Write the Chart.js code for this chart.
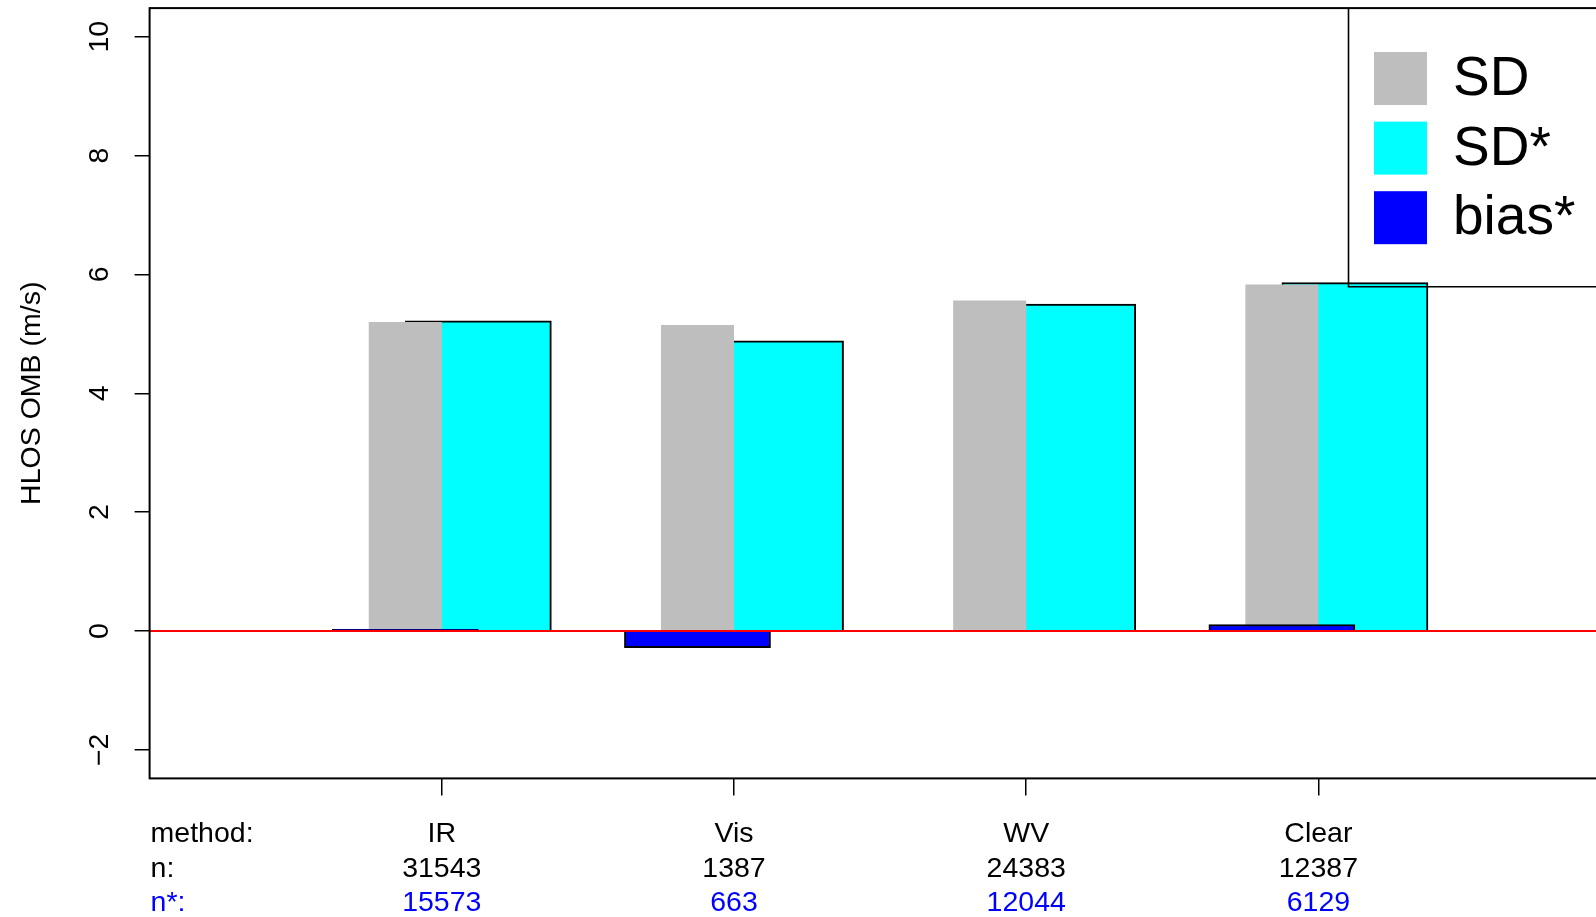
<!DOCTYPE html>
<html><head><meta charset="utf-8">
<script src="https://cdn.jsdelivr.net/npm/chart.js@4/dist/chart.umd.min.js"></script>
<style>
html,body{margin:0;padding:0;overflow:hidden;background:#fff;width:1596px;height:917px}
#wrap{position:absolute;left:0;top:0;width:1640px;height:917px}
canvas{display:block}
</style></head>
<body><div id="wrap"><canvas id="c" width="1640" height="917" style="width:1640px;height:917px"></canvas></div>
<script>
// ---- data ----
const categories = ['IR', 'Vis', 'WV', 'Clear'];
const nAll = ['31543', '1387', '24383', '12387'];
const nStar = ['15573', '663', '12044', '6129'];
const sd = [5.20, 5.15, 5.56, 5.83];
const sdStar = [5.22, 4.88, 5.50, 5.86];
const biasStar = [0.03, -0.28, -0.01, 0.11];
const yTicks = [-2, 0, 2, 4, 6, 8, 10];
const rowHeads = ['method:', 'n:', 'n*:'];
const seriesNames = ['SD', 'SD*', 'bias*'];

// ---- styling ----
const FONT = '"Liberation Sans", Arial, Helvetica, sans-serif';
const GRAY = '#BEBEBE', CYAN = '#00FFFF', BLUE = '#0000FF';
const yLo = yTicks[0], yHi = yTicks[yTicks.length - 1];
const ext = (yHi - yLo) * 0.04;
const labels = [''].concat(categories, ['']);
const pad = arr => [null].concat(arr, [null]);

const decor = {
  id: 'decor',
  afterDatasetsDraw(chart) {
    const ctx = chart.ctx, a = chart.chartArea;
    const y = chart.scales.y;
    ctx.save();
    // zero line
    const y0 = y.getPixelForValue(0);
    ctx.strokeStyle = '#FF0000'; ctx.lineWidth = 2;
    ctx.beginPath(); ctx.moveTo(a.left, y0); ctx.lineTo(a.right, y0); ctx.stroke();
    // box
    ctx.strokeStyle = '#000'; ctx.lineWidth = 2;
    ctx.strokeRect(a.left, a.top, a.right - a.left, a.bottom - a.top);
    // legend
    const lx = 1348.5, ly = a.top, lb = 286.7;
    ctx.lineWidth = 1.6;
    ctx.beginPath();
    ctx.moveTo(chart.width + 5, lb); ctx.lineTo(lx, lb); ctx.lineTo(lx, ly); ctx.stroke();
    const order = [1, 2, 0];
    ctx.font = '55px ' + FONT;
    ctx.textAlign = 'left'; ctx.textBaseline = 'middle';
    order.forEach((di, k) => {
      const ds = chart.data.datasets[di];
      const top = 52 + k * 69.6;
      ctx.fillStyle = ds.backgroundColor;
      ctx.fillRect(1374, top, 53, 53);
      ctx.fillStyle = '#000';
      ctx.fillText(ds.label, 1453, top + 28);
    });
    ctx.restore();
  },
  afterDraw(chart) {
    const ctx = chart.ctx, a = chart.chartArea;
    const y = chart.scales.y, x = chart.scales.x;
    ctx.save();
    ctx.fillStyle = '#000';
    ctx.font = '28.5px ' + FONT;
    // y tick labels (rotated)
    y.ticks.forEach(t => {
      const py = y.getPixelForValue(t.value);
      ctx.save();
      ctx.translate(108, py);
      ctx.rotate(-Math.PI / 2);
      ctx.textAlign = 'center'; ctx.textBaseline = 'alphabetic';
      ctx.fillText(String(t.value).replace('-', '\u2212'), 0, 0);
      ctx.restore();
    });
    // y title
    ctx.save();
    ctx.translate(40, (a.top + a.bottom) / 2);
    ctx.rotate(-Math.PI / 2);
    ctx.textAlign = 'center'; ctx.textBaseline = 'alphabetic';
    ctx.fillText('HLOS OMB (m/s)', 0, 0);
    ctx.restore();
    // bottom table
    const rows = [categories, nAll, nStar];
    const colors = ['#000', '#000', BLUE];
    const base = [841.7, 877.3, 910.7];
    ctx.textBaseline = 'alphabetic';
    rows.forEach((row, r) => {
      ctx.fillStyle = colors[r];
      ctx.textAlign = 'left';
      ctx.fillText(rowHeads[r], a.left + 1, base[r]);
      ctx.textAlign = 'center';
      row.forEach((txt, i) => {
        ctx.fillText(txt, x.getPixelForValue(i + 1), base[r]);
      });
    });
    ctx.restore();
  }
};

const edgeHidden = c => (c.index === 0 || c.index === labels.length - 1) ? 'rgba(0,0,0,0)' : '#000';

new Chart(document.getElementById('c'), {
  type: 'bar',
  data: {
    labels: labels,
    datasets: [
      { label: seriesNames[2], data: pad(biasStar), backgroundColor: BLUE, borderColor: '#000',
        borderWidth: 2, borderSkipped: 'start', stack: 'a', barPercentage: 2, categoryPercentage: 0.5 },
      { label: seriesNames[0], data: pad(sd), backgroundColor: GRAY, borderWidth: 0,
        stack: 'a', barPercentage: 1, categoryPercentage: 0.5 },
      { label: seriesNames[1], data: pad(sdStar), backgroundColor: CYAN, borderColor: '#000',
        borderWidth: 2, borderSkipped: 'start', stack: 'b', barPercentage: 2, categoryPercentage: 0.5 }
    ]
  },
  options: {
    responsive: false,
    animation: false,
    devicePixelRatio: 1,
    layout: { padding: { left: 0, right: 29.4, top: 8.1, bottom: 0 } },
    plugins: { legend: { display: false }, tooltip: { enabled: false }, title: { display: false } },
    scales: {
      x: {
        type: 'category',
        offset: false,
        border: { display: false },
        grid: { offset: false, drawOnChartArea: false, drawTicks: true, tickLength: 17,
                tickColor: edgeHidden, color: edgeHidden, lineWidth: 1.5 },
        ticks: { display: false },
        afterFit: s => { s.height = 917 - 778.4; }
      },
      y: {
        type: 'linear',
        stacked: false,
        min: yLo - ext, max: yHi + ext,
        border: { display: false },
        afterBuildTicks: s => { s.ticks = yTicks.map(v => ({ value: v })); },
        grid: { drawOnChartArea: false, drawTicks: true, tickLength: 15, tickColor: '#000', color: '#000', lineWidth: 1.5 },
        ticks: { display: false },
        afterFit: s => { s.width = 149.6; }
      }
    }
  },
  plugins: [decor]
});
</script>
</body></html>
